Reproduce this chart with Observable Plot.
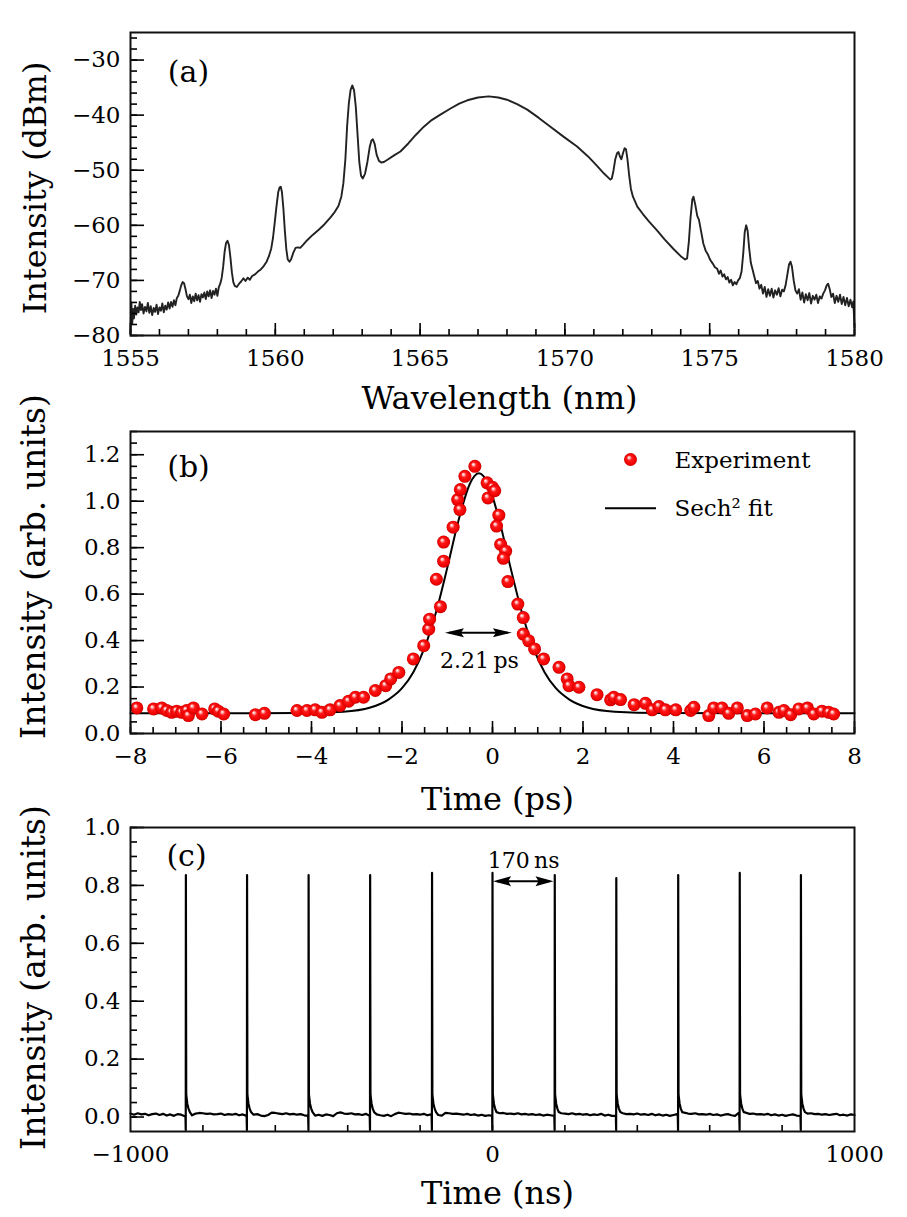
<!DOCTYPE html>
<html><head><meta charset="utf-8">
<script src="https://cdn.jsdelivr.net/npm/d3@7"></script>
<script src="https://cdn.jsdelivr.net/npm/@observablehq/plot@0.6"></script>
<style>
body{margin:0;background:#fff;}
#wrap{position:relative;width:907px;height:1217px;}
#wrap svg{position:absolute;left:0;}
</style></head><body><div id="wrap"></div>
<script>
// ---------- Panel (a): optical spectrum [wavelength nm, intensity dBm] ----------
const spectrum = [
[1555.00,-79.5],[1555.03,-74.0],[1555.06,-77.8],[1555.09,-75.2],[1555.12,-76.9],[1555.16,-74.6],[1555.20,-76.2],[1555.24,-74.9],[1555.28,-75.8],[1555.32,-73.9],
[1555.36,-75.4],[1555.40,-74.3],[1555.45,-76.0],[1555.50,-74.8],[1555.55,-75.6],[1555.60,-74.1],[1555.65,-75.9],[1555.70,-74.7],[1555.75,-76.3],[1555.80,-75.0],
[1555.85,-75.7],[1555.90,-74.4],[1555.95,-76.1],[1556.00,-74.9],[1556.05,-75.5],[1556.10,-74.2],[1556.15,-75.8],[1556.20,-74.6],[1556.25,-75.3],[1556.30,-74.0],
[1556.35,-75.1],[1556.40,-73.9],[1556.45,-74.8],[1556.50,-73.6],[1556.55,-74.5],[1556.60,-73.2],[1556.65,-72.8],[1556.70,-71.9],[1556.75,-70.9],[1556.80,-70.3],
[1556.85,-70.5],[1556.90,-71.6],[1556.95,-72.9],[1557.00,-73.4],[1557.05,-72.6],[1557.10,-74.1],[1557.15,-72.9],[1557.20,-73.8],[1557.25,-72.4],[1557.30,-73.6],
[1557.35,-72.7],[1557.40,-73.9],[1557.45,-72.5],[1557.50,-73.1],[1557.55,-72.2],[1557.60,-73.4],[1557.65,-72.0],[1557.70,-72.9],[1557.75,-71.8],[1557.80,-73.2],
[1557.85,-71.9],[1557.90,-72.6],[1557.95,-71.5],[1558.00,-72.8],[1558.05,-71.2],[1558.10,-70.6],[1558.15,-69.5],[1558.20,-67.5],[1558.25,-64.8],[1558.30,-63.2],
[1558.35,-62.8],[1558.40,-63.6],[1558.45,-65.8],[1558.50,-68.5],[1558.55,-70.3],[1558.60,-71.0],[1558.67,-71.2],[1558.75,-70.6],[1558.82,-70.2],[1558.90,-69.6],
[1558.97,-70.1],[1559.05,-69.5],[1559.12,-69.9],[1559.20,-69.2],[1559.30,-68.9],[1559.40,-68.4],[1559.50,-68.0],[1559.60,-67.4],[1559.70,-66.6],[1559.78,-65.6],
[1559.86,-64.2],[1559.92,-62.3],[1559.98,-59.5],[1560.04,-56.6],[1560.10,-54.0],[1560.15,-53.1],[1560.19,-53.0],[1560.23,-54.0],[1560.28,-57.0],[1560.33,-61.0],
[1560.38,-64.3],[1560.43,-66.2],[1560.49,-66.6],[1560.55,-66.1],[1560.62,-65.0],[1560.70,-64.1],[1560.78,-64.0],[1560.86,-64.1],[1560.95,-63.6],[1561.10,-62.7],
[1561.30,-61.7],[1561.50,-60.8],[1561.70,-59.8],[1561.90,-58.6],[1562.05,-57.6],[1562.18,-56.5],[1562.28,-54.8],[1562.35,-52.4],[1562.42,-48.0],[1562.48,-42.0],
[1562.54,-37.8],[1562.60,-35.4],[1562.66,-34.6],[1562.72,-35.5],[1562.78,-38.5],[1562.84,-43.5],[1562.90,-48.5],[1562.96,-51.0],[1563.02,-51.5],[1563.10,-50.6],
[1563.18,-48.5],[1563.26,-45.8],[1563.32,-44.6],[1563.37,-44.4],[1563.43,-45.2],[1563.50,-47.2],[1563.58,-48.3],[1563.66,-48.6],[1563.75,-48.5],[1563.90,-48.0],
[1564.10,-47.3],[1564.32,-46.6],[1564.60,-45.1],[1564.85,-43.6],[1565.13,-42.1],[1565.40,-40.9],[1565.70,-39.9],[1566.05,-38.8],[1566.35,-37.9],[1566.63,-37.3],
[1567.00,-36.8],[1567.37,-36.6],[1567.70,-36.8],[1568.00,-37.2],[1568.35,-38.0],[1568.70,-39.0],[1569.10,-40.5],[1569.50,-42.1],[1569.95,-43.9],[1570.42,-45.7],
[1570.80,-47.5],[1571.11,-49.2],[1571.35,-50.6],[1571.57,-51.7],[1571.62,-51.5],[1571.68,-50.0],[1571.74,-48.0],[1571.80,-46.9],[1571.85,-46.7],[1571.90,-47.5],
[1571.95,-48.0],[1572.00,-47.0],[1572.06,-46.0],[1572.11,-46.2],[1572.16,-48.0],[1572.22,-51.0],[1572.28,-53.4],[1572.35,-54.8],[1572.50,-56.6],[1572.70,-58.0],
[1572.90,-59.3],[1573.18,-60.9],[1573.45,-62.6],[1573.75,-64.3],[1574.00,-65.6],[1574.15,-66.2],[1574.22,-66.0],[1574.28,-63.0],[1574.34,-58.5],[1574.40,-55.3],
[1574.44,-54.8],[1574.50,-56.2],[1574.57,-58.3],[1574.63,-59.0],[1574.70,-61.0],[1574.78,-63.3],[1574.86,-64.6],[1574.94,-65.3],[1575.02,-66.3],[1575.10,-66.9],
[1575.18,-67.6],[1575.26,-67.9],[1575.32,-68.8],[1575.38,-68.2],[1575.44,-69.3],[1575.50,-68.9],[1575.56,-69.8],[1575.62,-69.4],[1575.68,-70.4],[1575.74,-69.9],
[1575.80,-70.9],[1575.86,-70.3],[1575.92,-70.7],[1575.98,-70.0],[1576.04,-69.6],[1576.10,-68.4],[1576.16,-65.0],[1576.21,-61.2],[1576.26,-60.0],[1576.31,-61.0],
[1576.36,-64.0],[1576.42,-66.8],[1576.48,-68.0],[1576.54,-69.3],[1576.60,-70.5],[1576.66,-70.1],[1576.72,-71.5],[1576.78,-70.8],[1576.84,-72.4],[1576.90,-71.2],
[1576.96,-73.0],[1577.02,-71.6],[1577.08,-72.8],[1577.14,-71.5],[1577.20,-73.1],[1577.26,-71.8],[1577.32,-72.6],[1577.38,-71.4],[1577.44,-72.9],[1577.50,-71.7],
[1577.56,-72.0],[1577.62,-70.9],[1577.68,-69.0],[1577.74,-67.1],[1577.79,-66.6],[1577.84,-67.5],[1577.90,-70.0],[1577.96,-71.8],[1578.02,-72.4],[1578.08,-71.6],
[1578.14,-73.5],[1578.20,-72.2],[1578.26,-74.0],[1578.32,-72.5],[1578.38,-73.6],[1578.44,-72.3],[1578.50,-74.2],[1578.56,-72.8],[1578.62,-73.5],[1578.68,-72.6],
[1578.74,-74.1],[1578.80,-72.9],[1578.86,-73.3],[1578.92,-72.4],[1578.98,-71.8],[1579.04,-70.9],[1579.09,-70.6],[1579.14,-71.5],[1579.20,-73.0],[1579.26,-72.4],
[1579.32,-74.1],[1579.38,-72.8],[1579.44,-73.9],[1579.50,-72.6],[1579.56,-74.3],[1579.62,-73.0],[1579.68,-74.5],[1579.74,-73.2],[1579.80,-74.7],[1579.86,-73.5],
[1579.92,-74.9],[1579.96,-73.8],[1580.00,-78.5]
];
const aXMajor = [1555, 1560, 1565, 1570, 1575, 1580];
const aXMinor = d3.range(1555, 1581, 1);
const aYMajor = [-80, -70, -60, -50, -40, -30];
const aYMinor = d3.range(-80, -25, 2);

// ---------- Panel (b): autocorrelation [time ps, intensity] ----------
const experiment = [
[-7.86,0.110],[-7.49,0.106],[-7.31,0.110],[-7.20,0.099],[-7.09,0.091],[-6.98,0.096],[-6.87,0.091],[-6.76,0.099],[-6.72,0.077],[-6.61,0.110],
[-6.42,0.084],[-6.14,0.106],[-6.06,0.096],[-5.94,0.084],[-5.24,0.081],[-5.04,0.087],[-4.32,0.099],[-4.10,0.099],[-3.92,0.102],[-3.77,0.091],
[-3.59,0.102],[-3.37,0.120],[-3.18,0.139],[-3.03,0.156],[-2.85,0.156],[-2.59,0.185],[-2.36,0.206],[-2.25,0.235],[-2.07,0.263],[-1.75,0.321],
[-1.52,0.378],[-1.41,0.449],[-1.39,0.492],[-1.15,0.546],[-1.24,0.664],[-1.08,0.742],[-1.08,0.824],[-0.87,0.888],[-0.77,1.007],[-0.72,0.964],
[-0.71,1.050],[-0.61,1.107],[-0.39,1.150],[-0.12,1.079],[-0.10,1.014],[0.00,1.060],[0.05,1.045],[0.14,0.940],[0.09,0.893],[0.18,0.814],
[0.29,0.785],[0.24,0.754],[0.34,0.654],[0.56,0.557],[0.68,0.499],[0.68,0.428],[0.80,0.399],[0.93,0.364],[1.13,0.321],[1.47,0.285],
[1.65,0.235],[1.69,0.206],[1.91,0.199],[2.31,0.167],[2.61,0.145],[2.68,0.156],[2.83,0.146],[3.13,0.124],[3.38,0.130],[3.53,0.102],
[3.68,0.116],[3.82,0.102],[4.05,0.102],[4.38,0.099],[4.45,0.113],[4.78,0.077],[4.89,0.110],[5.07,0.110],[5.22,0.087],[5.41,0.110],
[5.63,0.077],[5.81,0.084],[6.07,0.110],[6.33,0.091],[6.44,0.099],[6.59,0.081],[6.77,0.106],[6.96,0.110],[7.10,0.084],[7.28,0.096],
[7.43,0.091],[7.54,0.084]
];
const sechFit = [
[-8,0.087],[-4.3,0.088],[-3.3,0.094],[-2.7,0.112],[-2.3,0.146],[-2.0,0.195],[-1.75,0.264],[-1.5,0.37],[-1.25,0.521],[-1.0,0.713],
[-0.75,0.918],[-0.5,1.075],[-0.4,1.108],[-0.3,1.12],[-0.2,1.108],[-0.1,1.075],[0.15,0.918],[0.4,0.713],[0.65,0.521],[0.9,0.37],
[1.15,0.264],[1.4,0.195],[1.7,0.146],[2.1,0.112],[2.7,0.094],[3.7,0.088],[8,0.087]
];
const bWidth = {from: -1.04, to: 0.44, level: 0.432, label: "2.21\u2009ps", labelAt: -0.29, labelLevel: 0.313};
const bXMajor = [-8, -6, -4, -2, 0, 2, 4, 6, 8];
const bXMinor = d3.range(-8, 8.01, 0.5);
const bYMajor = [0, 0.2, 0.4, 0.6, 0.8, 1.0, 1.2];
const bYMinor = d3.range(0, 1.301, 0.05);
const legendLabels = ["Experiment", "Sech\u00b2 fit"];

// ---------- Panel (c): pulse train [time ns, intensity] ----------
const pulseTimes = [-847, -678, -508, -338, -167, 0, 172, 342, 513, 683, 852];
const pulsePeaks = [0.836, 0.836, 0.836, 0.836, 0.843, 0.843, 0.836, 0.825, 0.836, 0.843, 0.836];
const pulseShapeDt = [-1.2, -0.4, 0, 0.9, 2, 4, 7, 11];
const pulseShapeLevel = [0.004, -0.045, null, 0.078, 0.066, 0.045, 0.030, 0.017];
const baselineStart = -1000, baselineStep = 10;
const baselineNoise = [
0.012,0.008,0.013,0.009,0.011,0.006,0.010,0.012,0.007,0.011,0.005,0.009,0.004,0.010,0.008,0.003,0.009,0.006,0.012,0.014,
0.013,0.011,0.012,0.009,0.010,0.012,0.007,0.010,0.008,0.011,0.006,0.009,0.007,0.004,0.008,0.010,0.005,0.003,0.007,0.015,
0.014,0.012,0.010,0.013,0.009,0.011,0.008,0.010,0.006,0.009,0.011,0.005,0.008,0.004,0.009,0.007,0.003,0.013,0.016,0.012,
0.011,0.013,0.009,0.010,0.007,0.011,0.008,0.005,0.009,0.006,0.004,0.008,0.003,0.010,0.015,0.013,0.011,0.012,0.009,0.010,
0.008,0.011,0.006,0.009,0.004,0.007,0.005,0.014,0.013,0.011,0.012,0.010,0.008,0.011,0.007,0.009,0.005,0.008,0.004,0.006,
0.016,0.015,0.013,0.014,0.011,0.012,0.010,0.013,0.009,0.011,0.008,0.010,0.007,0.009,0.005,0.008,0.006,0.004,0.015,0.013,
0.012,0.010,0.013,0.009,0.011,0.008,0.010,0.006,0.009,0.007,0.011,0.005,0.008,0.004,0.014,0.012,0.013,0.010,0.011,0.009,
0.012,0.008,0.010,0.007,0.011,0.006,0.009,0.005,0.008,0.004,0.007,0.010,0.013,0.015,0.012,0.011,0.013,0.009,0.010,0.008,
0.011,0.007,0.009,0.005,0.008,0.010,0.006,0.004,0.014,0.013,0.015,0.011,0.012,0.009,0.010,0.008,0.011,0.006,0.009,0.005,
0.008,0.004,0.007,0.009,0.005,0.003,0.014,0.012,0.013,0.010,0.011,0.008,0.010,0.007,0.009,0.011,0.006,0.008,0.005,0.009,
0.007
];
const cSpacing = {from: 0, to: 172, level: 0.813, label: "170\u2009ns", labelAt: 86, labelLevel: 0.886};
const cXLabels = [-1000, 0, 1000];
const cXMinor = d3.range(-800, 801, 200);
const cYMajor = [0, 0.2, 0.4, 0.6, 0.8, 1.0];
const cYMinor = d3.range(0, 1.001, 0.05);

// ---------- build pulse trace from the arrays above ----------
const trace = [];
baselineNoise.forEach((v, i) => {
  const t = baselineStart + i * baselineStep;
  if (!pulseTimes.some(p => t - p > -3 && t - p < 13)) trace.push([t, v]);
});
pulseTimes.forEach((p, k) => {
  pulseShapeDt.forEach((dt, j) => trace.push([p + dt, pulseShapeLevel[j] === null ? pulsePeaks[k] : pulseShapeLevel[j]]));
});
trace.sort((a, b) => a[0] - b[0]);

// ---------- helpers ----------
const W = 907, ML = 130, MR = 53, FRAME_W = W - ML - MR;
const FONT = "DejaVu Serif";
const MINUS = "\u2212";
const fmtInt = d => (d < 0 ? MINUS : "") + Math.abs(d);
const fmt1 = d => (d < 0 ? MINUS : "") + Math.abs(d).toFixed(1);

// inward ticks along the bottom and left frame edges (lengths in pixels, converted to data units)
function axes({xDom, yDom, frameH, xLab, xMajor, xMinor, yLab, yMajor, yMinor, xFmt, yFmt, xLen = [6, 12], yLen = [7, 14], xPad = 14, yPad = 10}) {
  const tw = 1.6;
  const dy = px => (yDom[1] - yDom[0]) * px / frameH;
  const dx = px => (xDom[1] - xDom[0]) * px / FRAME_W;
  return [
    Plot.ruleX(xMinor, {x: d => d, y1: yDom[0], y2: yDom[0] + dy(xLen[0]), stroke: "#000", strokeWidth: tw}),
    Plot.ruleX(xMajor, {x: d => d, y1: yDom[0], y2: yDom[0] + dy(xLen[1]), stroke: "#000", strokeWidth: tw}),
    Plot.ruleY(yMinor, {y: d => d, x1: xDom[0], x2: xDom[0] + dx(yLen[0]), stroke: "#000", strokeWidth: tw}),
    Plot.ruleY(yMajor, {y: d => d, x1: xDom[0], x2: xDom[0] + dx(yLen[1]), stroke: "#000", strokeWidth: tw}),
    Plot.axisX(xLab, {anchor: "bottom", tickSize: 0, tickPadding: xPad, tickFormat: xFmt, label: null, fontSize: 23, fontFamily: FONT}),
    Plot.axisY(yLab, {anchor: "left", tickSize: 0, tickPadding: yPad, tickFormat: yFmt, label: null, fontSize: 23, fontFamily: FONT})
  ];
}
const baseStyle = {fontFamily: FONT, fontSize: "23px", background: "transparent", overflow: "visible", color: "#000"};
const centered = {textAnchor: "middle", lineAnchor: "middle", fontFamily: FONT};

function dblArrow(svg, x1v, x2v, yv, head, half) {
  const sx = svg.scale("x"), sy = svg.scale("y");
  const X1 = sx.apply(x1v), X2 = sx.apply(x2v), Y = sy.apply(yv);
  const g = d3.select(svg).append("g");
  g.append("line").attr("x1", X1 + 4).attr("x2", X2 - 4).attr("y1", Y).attr("y2", Y)
    .attr("stroke", "#000").attr("stroke-width", 2);
  g.append("path").attr("fill", "#000")
    .attr("d", `M${X1},${Y}L${X1 + head},${Y - half}L${X1 + head - 3},${Y}L${X1 + head},${Y + half}Z`);
  g.append("path").attr("fill", "#000")
    .attr("d", `M${X2},${Y}L${X2 - head},${Y - half}L${X2 - head + 3},${Y}L${X2 - head},${Y + half}Z`);
}

const wrap = document.getElementById("wrap");

// ---------- Panel (a) ----------
const aXDom = [1555, 1580], aYDom = [-80, -25];
const plotA = Plot.plot({
  width: W, height: 415, marginLeft: ML, marginRight: MR, marginTop: 32, marginBottom: 80,
  style: baseStyle,
  x: {domain: aXDom}, y: {domain: aYDom},
  marks: [
    Plot.line(spectrum, {x: d => d[0], y: d => d[1], stroke: "#222", strokeWidth: 1.9, strokeLinejoin: "round"}),
    ...axes({xDom: aXDom, yDom: aYDom, frameH: 303, xLab: aXMajor, xMajor: aXMajor, xMinor: aXMinor, yLab: aYMajor, yMajor: aYMajor, yMinor: aYMinor, xFmt: d => String(d), yFmt: fmtInt}),
    Plot.frame({stroke: "#111", strokeWidth: 2}),
    Plot.text(["(a)"], {...centered, text: d => d, frameAnchor: "top-left", dx: 58, dy: 40, fontSize: 30}),
    Plot.text(["Wavelength (nm)"], {...centered, text: d => d, frameAnchor: "bottom", dx: 7, dy: 63, fontSize: 32}),
    Plot.text(["Intensity (dBm)"], {...centered, text: d => d, frameAnchor: "left", dx: -95, dy: 4, rotate: -90, fontSize: 32})
  ]
});
plotA.style.top = "0px";
wrap.appendChild(plotA);

// ---------- Panel (b) ----------
const bXDom = [-8, 8], bYDom = [0, 1.3];
const plotB = Plot.plot({
  width: W, height: 400, marginLeft: ML, marginRight: MR, marginTop: 16, marginBottom: 82,
  style: baseStyle,
  x: {domain: bXDom}, y: {domain: bYDom},
  marks: [
    ...axes({xDom: bXDom, yDom: bYDom, frameH: 302, xLab: bXMajor, xMajor: bXMajor, xMinor: bXMinor, yLab: bYMajor, yMajor: bYMajor, yMinor: bYMinor, xFmt: fmtInt, yFmt: fmt1}),
    Plot.line(sechFit, {x: d => d[0], y: d => d[1], stroke: "#000", strokeWidth: 2, curve: "monotone-x"}),
    Plot.dot(experiment, {x: d => d[0], y: d => d[1], r: 6.5, fill: "url(#ball)", stroke: "none"}),
    Plot.frame({stroke: "#111", strokeWidth: 2}),
    Plot.text(["(b)"], {...centered, text: d => d, frameAnchor: "top-left", dx: 58, dy: 36, fontSize: 30}),
    Plot.text([bWidth], {...centered, x: d => d.labelAt, y: d => d.labelLevel, text: d => d.label, fontSize: 22}),
    Plot.dot([legendLabels[0]], {frameAnchor: "top-left", dx: 500, dy: 28, r: 6.5, fill: "url(#ball)", stroke: "none"}),
    Plot.text([legendLabels[0]], {text: d => d, frameAnchor: "top-left", dx: 544, dy: 29, textAnchor: "start", lineAnchor: "middle", fontSize: 23, fontFamily: FONT}),
    Plot.text([legendLabels[1]], {text: d => d, frameAnchor: "top-left", dx: 544, dy: 77, textAnchor: "start", lineAnchor: "middle", fontSize: 23, fontFamily: FONT}),
    Plot.text(["Time (ps)"], {...centered, text: d => d, frameAnchor: "bottom", dx: 5, dy: 66, fontSize: 32}),
    Plot.text(["Intensity (arb. units)"], {...centered, text: d => d, frameAnchor: "left", dx: -96, dy: -16, rotate: -90, fontSize: 33})
  ]
});
plotB.style.top = "415px";
d3.select(plotB).insert("defs", ":first-child").html(
  `<radialGradient id="ball" cx="0.5" cy="0.5" r="0.5" fx="0.36" fy="0.32">
     <stop offset="0" stop-color="#ffffff"/>
     <stop offset="0.18" stop-color="#ffb0b0"/>
     <stop offset="0.4" stop-color="#ff1a1a"/>
     <stop offset="0.85" stop-color="#ee0000"/>
     <stop offset="1" stop-color="#c20000"/>
   </radialGradient>`);
// legend line sample (pixel offsets from the frame, like the legend dot)
d3.select(plotB).append("line").attr("x1", ML + 475).attr("x2", ML + 526).attr("y1", 16 + 77.3).attr("y2", 16 + 77.3)
  .attr("stroke", "#000").attr("stroke-width", 2);
dblArrow(plotB, bWidth.from, bWidth.to, bWidth.level, 19, 4.5);
wrap.appendChild(plotB);

// ---------- Panel (c) ----------
const cXDom = [-1000, 1000], cYDom = [-0.05, 1.0];
const plotC = Plot.plot({
  width: W, height: 402, marginLeft: ML, marginRight: MR, marginTop: 12, marginBottom: 86,
  style: baseStyle,
  x: {domain: cXDom}, y: {domain: cYDom},
  marks: [
    ...axes({xDom: cXDom, yDom: cYDom, frameH: 304, xLab: cXLabels, xMajor: [], xMinor: cXMinor, yLab: cYMajor, yMajor: cYMajor, yMinor: cYMinor, xFmt: fmtInt, yFmt: fmt1}),
    Plot.line(trace, {x: d => d[0], y: d => d[1], stroke: "#000", strokeWidth: 2.2}),
    Plot.frame({stroke: "#111", strokeWidth: 2}),
    Plot.text(["(c)"], {...centered, text: d => d, frameAnchor: "top-left", dx: 56, dy: 29, fontSize: 30}),
    Plot.text([cSpacing], {...centered, x: d => d.labelAt, y: d => d.labelLevel, text: d => d.label, fontSize: 22}),
    Plot.text(["Time (ns)"], {...centered, text: d => d, frameAnchor: "bottom", dx: 5, dy: 62, fontSize: 32}),
    Plot.text(["Intensity (arb. units)"], {...centered, text: d => d, frameAnchor: "left", dx: -96, dy: -2, rotate: -90, fontSize: 33})
  ]
});
plotC.style.top = "815px";
dblArrow(plotC, cSpacing.from + 3, cSpacing.to - 2, cSpacing.level, 18, 5);
wrap.appendChild(plotC);
</script></body></html>
